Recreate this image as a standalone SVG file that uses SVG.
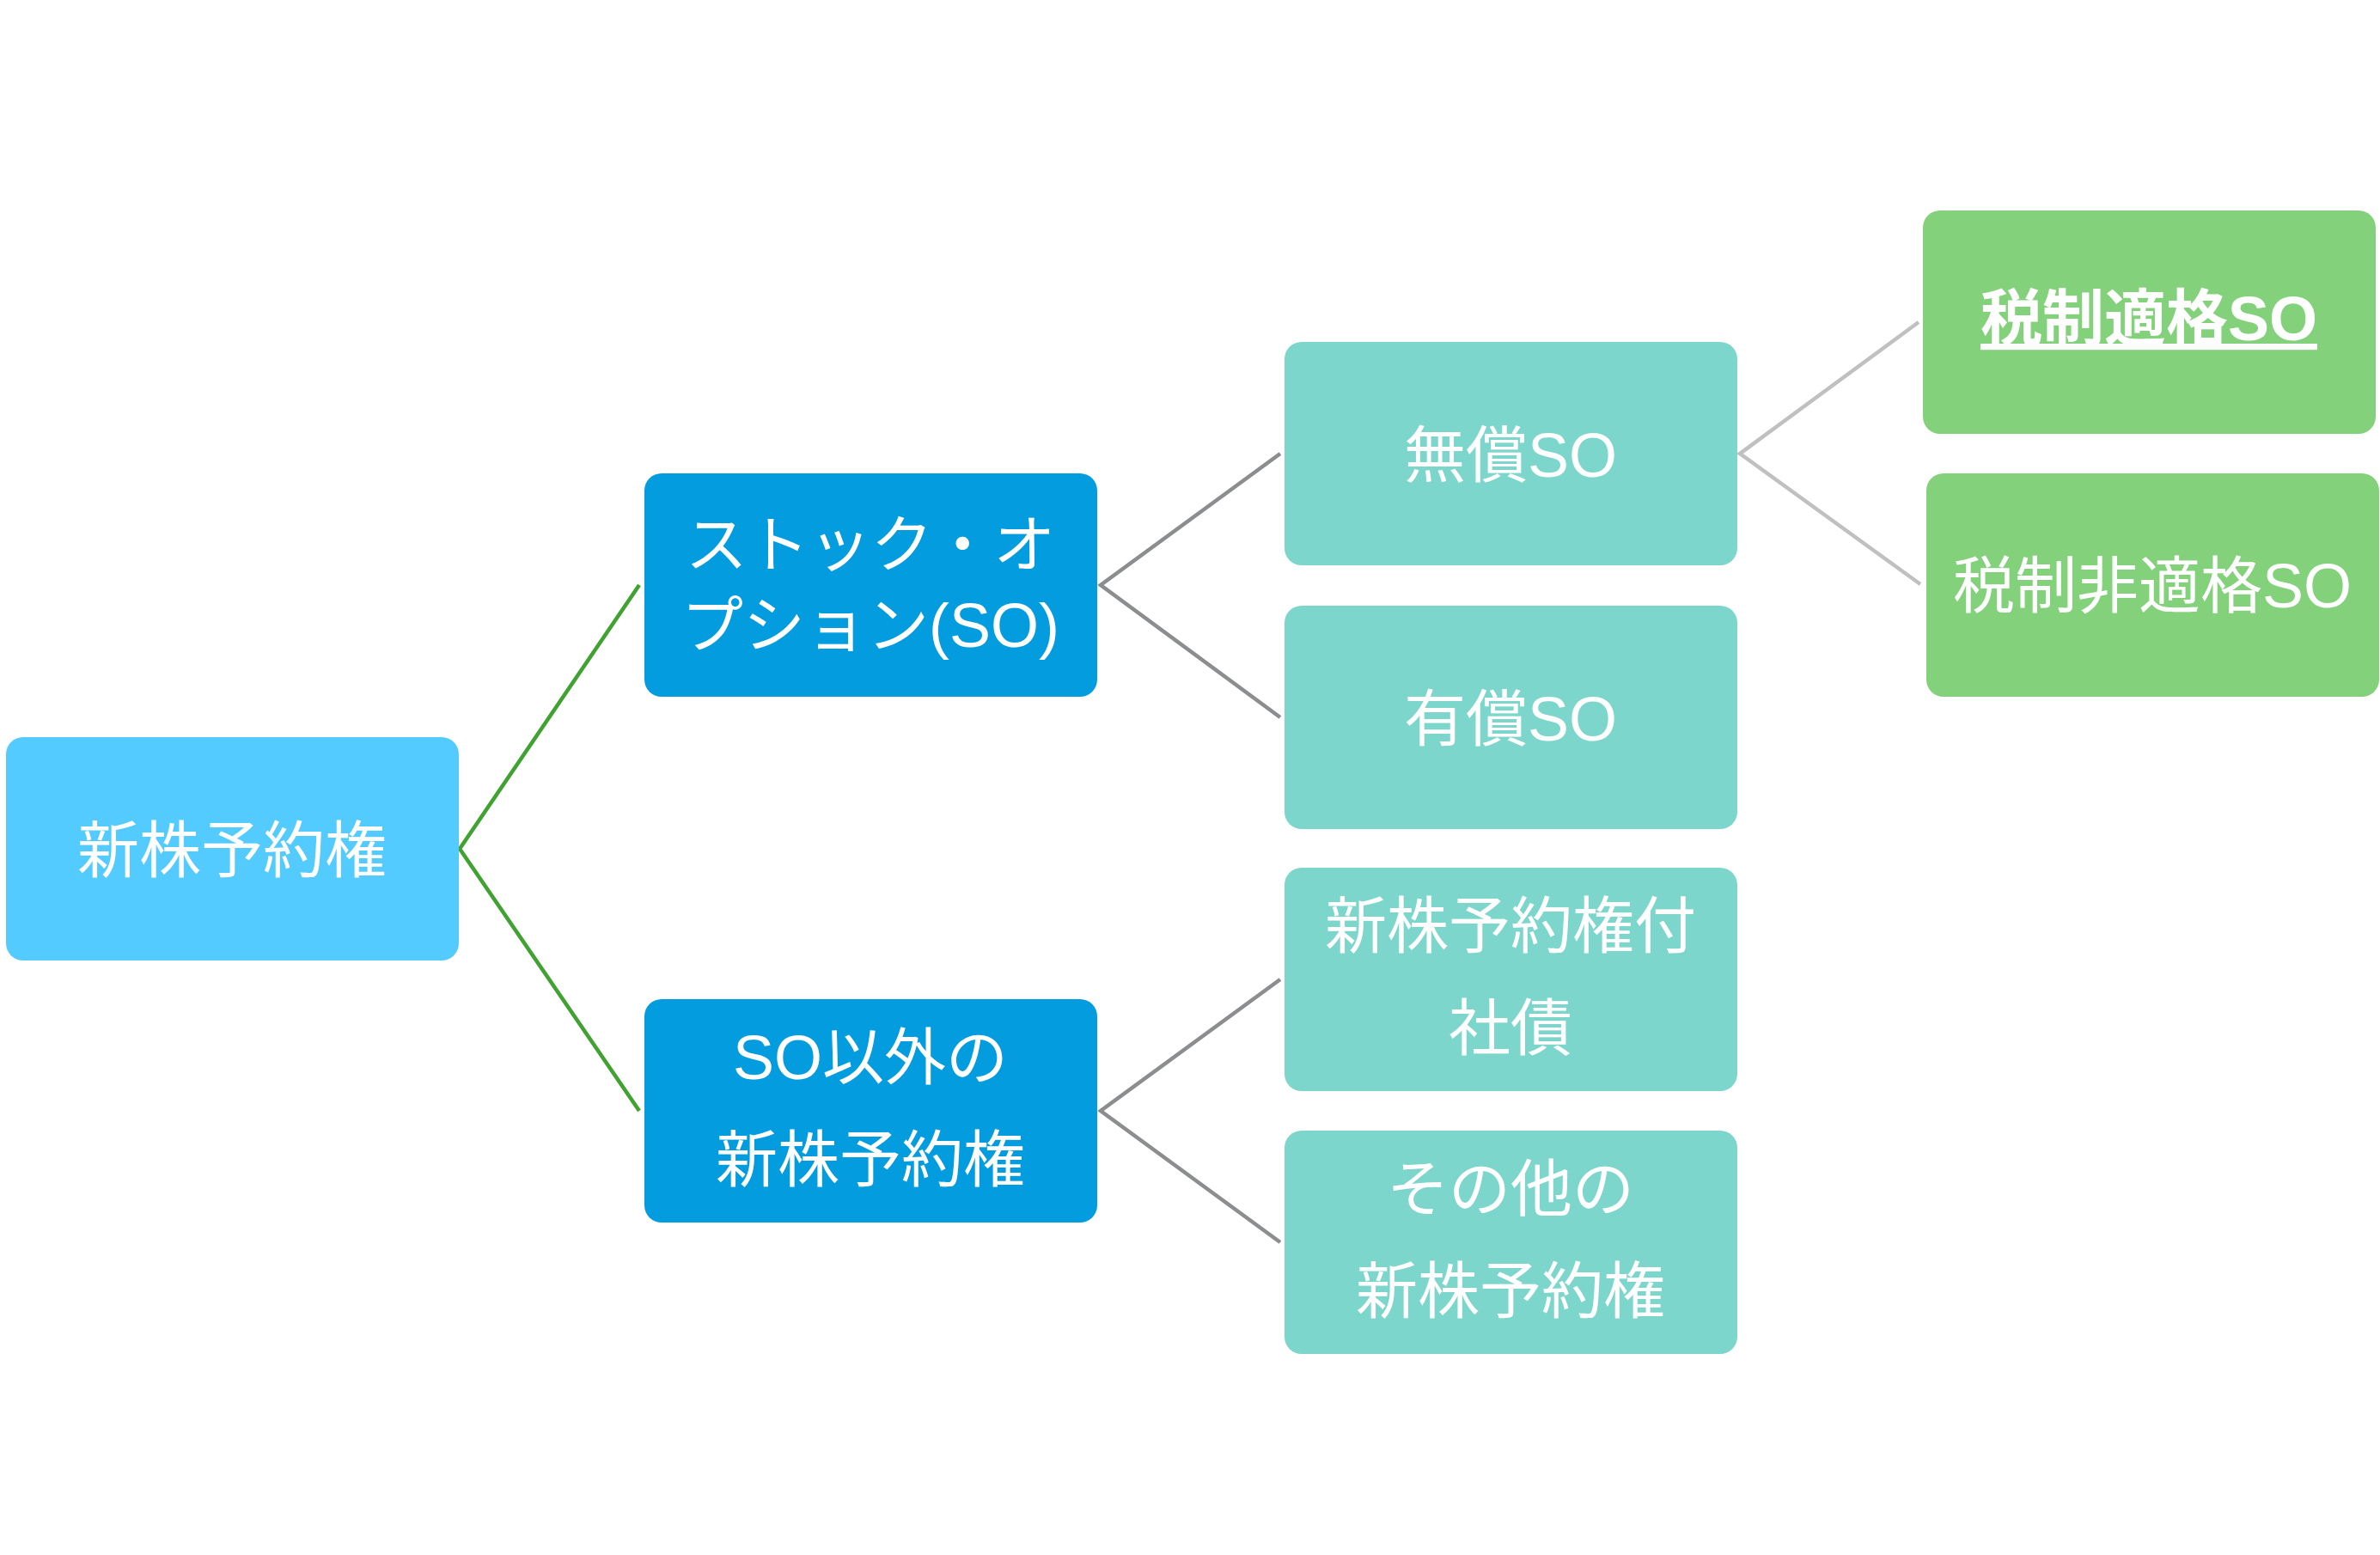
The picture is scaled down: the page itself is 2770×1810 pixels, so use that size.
<svg xmlns="http://www.w3.org/2000/svg" width="2770" height="1810" viewBox="0 0 2770 1810">
<style>
text{font-family:"Liberation Sans","Noto Sans CJK JP",sans-serif;font-size:72px;fill:#ffffff;text-anchor:middle}
.c0{fill:#53cbfe}
.c1{fill:#039ddf}
.c2{fill:#7dd6cb}
.c3{fill:#83d17b}
.g{fill:none;stroke:#3fa231;stroke-width:4.5}
.k{fill:none;stroke:#8c8d8f;stroke-width:4.5}
.l{fill:none;stroke:#c0c0c0;stroke-width:4.5}
.b{font-weight:bold;text-decoration:underline}
</style>
<rect width="2770" height="1810" fill="#ffffff"/>
<g id="connectors">
<polyline class="g" points="744,681 535,988 744,1293"/>
<polyline class="k" points="1490,528 1281,681 1490,835"/>
<polyline class="k" points="1490,1140 1281,1293 1490,1446"/>
<polyline class="l" points="2233,375 2025,528 2235,680"/>
</g>
<g id="root">
<rect class="c0" x="7" y="858" width="527" height="260" rx="20"/>
<text x="270" y="1015">新株予約権</text>
</g>
<g id="so">
<rect class="c1" x="750" y="551" width="527" height="260" rx="20"/>
<text x="1013" y="659">ストック・オ</text>
<text x="1013" y="753">プション(SO)</text>
</g>
<g id="non-so">
<rect class="c1" x="750" y="1163" width="527" height="260" rx="20"/>
<text x="1013" y="1256">SO以外の</text>
<text x="1013" y="1375">新株予約権</text>
</g>
<g id="muso">
<rect class="c2" x="1495" y="398" width="527" height="260" rx="20"/>
<text x="1758" y="555">無償SO</text>
</g>
<g id="yuso">
<rect class="c2" x="1495" y="705" width="527" height="260" rx="20"/>
<text x="1758" y="862">有償SO</text>
</g>
<g id="bond">
<rect class="c2" x="1495" y="1010" width="527" height="260" rx="20"/>
<text x="1758" y="1103">新株予約権付</text>
<text x="1758" y="1222">社債</text>
</g>
<g id="other">
<rect class="c2" x="1495" y="1316" width="527" height="260" rx="20"/>
<text x="1758" y="1409">その他の</text>
<text x="1758" y="1528">新株予約権</text>
</g>
<g id="qualified">
<rect class="c3" x="2238" y="245" width="527" height="260" rx="20"/>
<text class="b" x="2501" y="396">税制適格SO</text>
</g>
<g id="nonqualified">
<rect class="c3" x="2242" y="551" width="527" height="260" rx="20"/>
<text x="2505" y="707">税制非適格SO</text>
</g>
</svg>
